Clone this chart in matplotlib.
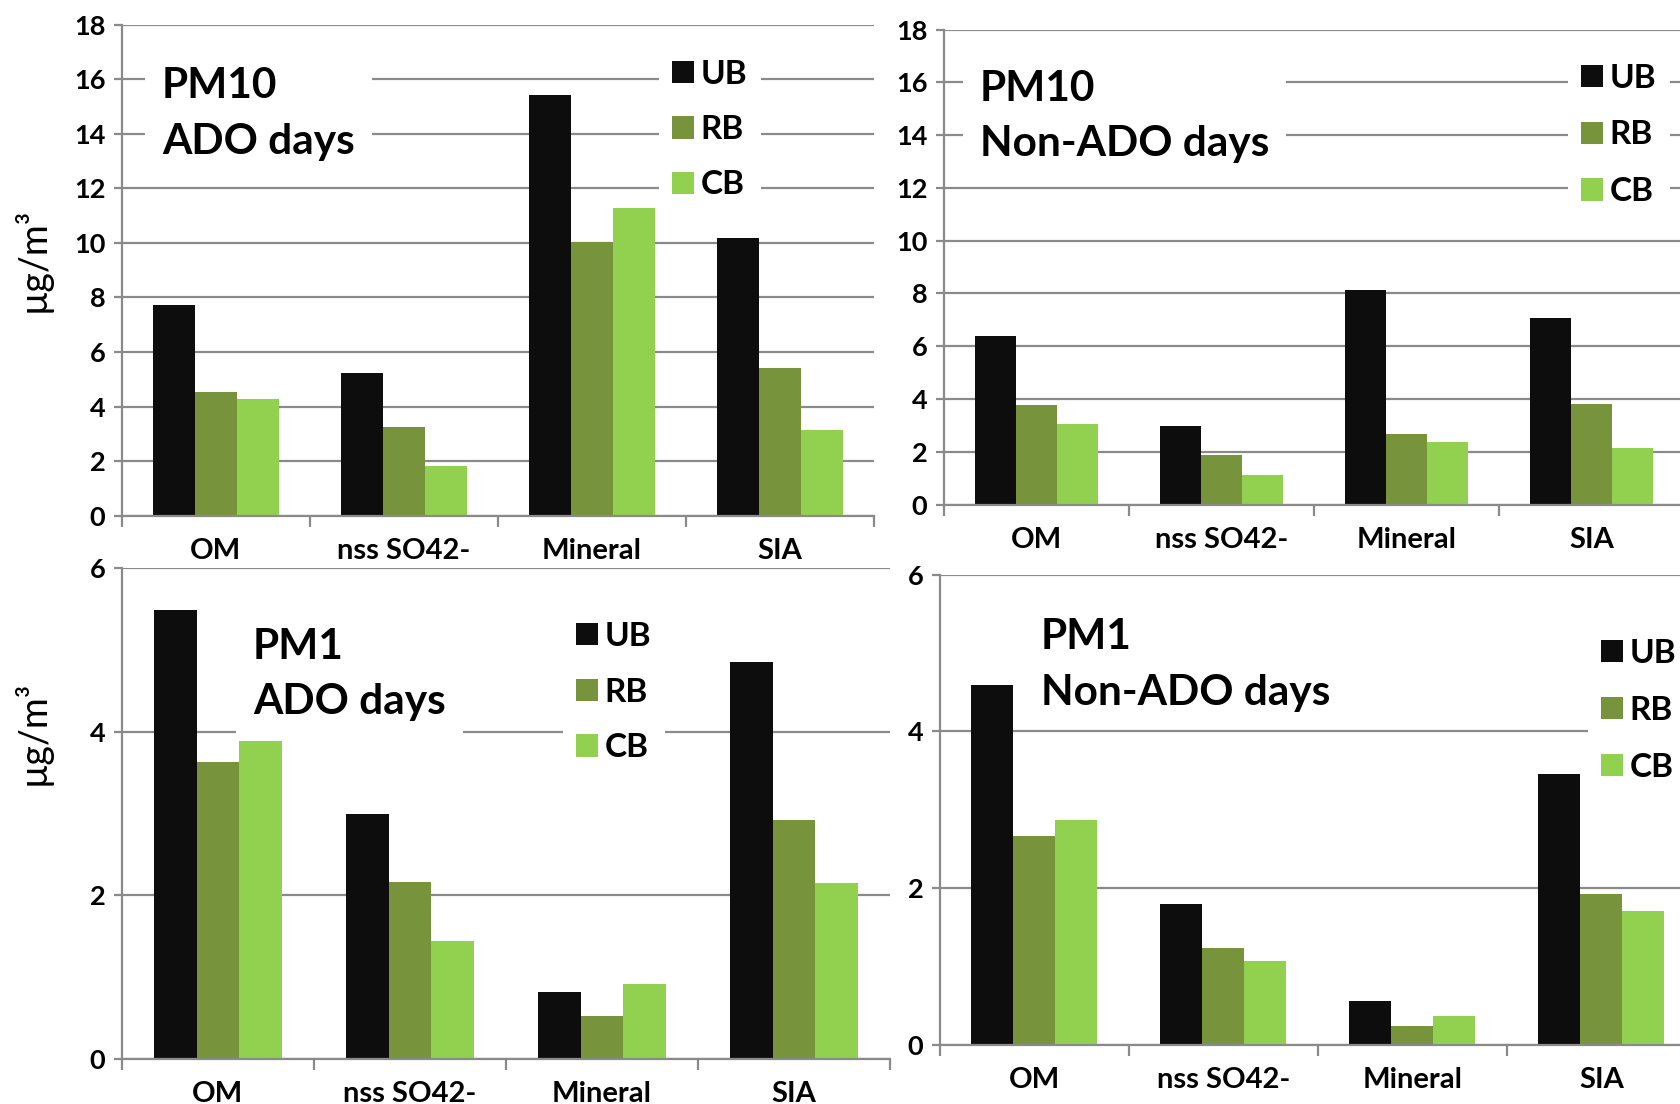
import matplotlib
matplotlib.use("Agg")
import matplotlib.pyplot as plt
from matplotlib.patches import Patch
from matplotlib.ticker import MultipleLocator, FixedLocator
import numpy as np

plt.rcParams['font.family'] = ['Lato', 'DejaVu Sans']

categories = ["OM", "nss SO42-", "Mineral", "SIA"]
series_names = ["UB", "RB", "CB"]
colors = ["#0d0d0d", "#77933c", "#92d050"]

pm10_ado_ub = [7.71, 5.24, 15.42, 10.19]
pm10_ado_rb = [4.55, 3.24, 10.03, 5.41]
pm10_ado_cb = [4.26, 1.81, 11.29, 3.13]

pm10_non_ub = [6.39, 2.98, 8.13, 7.08]
pm10_non_rb = [3.78, 1.88, 2.68, 3.82]
pm10_non_cb = [3.06, 1.12, 2.37, 2.15]

pm1_ado_ub = [5.49, 3.00, 0.82, 4.85]
pm1_ado_rb = [3.63, 2.16, 0.52, 2.92]
pm1_ado_cb = [3.89, 1.44, 0.92, 2.15]

pm1_non_ub = [4.59, 1.80, 0.56, 3.46]
pm1_non_rb = [2.67, 1.24, 0.24, 1.93]
pm1_non_cb = [2.87, 1.07, 0.37, 1.71]

W, H = 1681, 1104
fig = plt.figure(figsize=(W / 100, H / 100), dpi=100)
fig.patch.set_facecolor("white")

GRAY = "#8a8a8a"


def px_axes(left, top, width, height):
    return fig.add_axes([left / W, 1 - (top + height) / H, width / W, height / H])


def fx(x):
    return x / W


def fy(y):
    return 1 - y / H


panels = [
    dict(rect=(122, 24.7, 752, 491), data=(pm10_ado_ub, pm10_ado_rb, pm10_ado_cb),
         ymax=18, step=2, title="PM10\nADO days", title_xy=(162, 114),
         leg_xy=(659, 46.5), lsp=0.79),
    dict(rect=(944, 29.6, 740, 475), data=(pm10_non_ub, pm10_non_rb, pm10_non_cb),
         ymax=18, step=2, title="PM10\nNon-ADO days", title_xy=(980, 116.5),
         leg_xy=(1568, 50.5), lsp=0.83),
    dict(rect=(122, 568.4, 768, 490.4), data=(pm1_ado_ub, pm1_ado_rb, pm1_ado_cb),
         ymax=6, step=2, title="PM1\nADO days", title_xy=(253, 674.5),
         leg_xy=(563, 608.5), lsp=0.80),
    dict(rect=(940, 574.7, 756, 470.3), data=(pm1_non_ub, pm1_non_rb, pm1_non_cb),
         ymax=6, step=2, title="PM1\nNon-ADO days", title_xy=(1041, 665),
         leg_xy=(1588, 625.5), lsp=0.84),
]

bw = 1 / 4.5
x = np.arange(len(categories))

for p in panels:
    ax = px_axes(*p["rect"])
    for i, (vals, c) in enumerate(zip(p["data"], colors)):
        ax.bar(x + (i - 1) * bw, vals, width=bw, color=c, zorder=3, linewidth=0)
    ax.set_xlim(-0.5, len(categories) - 0.5)
    ax.set_ylim(0, p["ymax"])
    ax.yaxis.set_major_locator(MultipleLocator(p["step"]))
    ax.grid(axis="y", color=GRAY, linewidth=1.6, zorder=0)
    ax.set_axisbelow(True)
    for s in ["top", "right"]:
        ax.spines[s].set_visible(False)
    for s in ["left", "bottom"]:
        ax.spines[s].set_color(GRAY)
        ax.spines[s].set_linewidth(1.6)
        ax.spines[s].set_zorder(4)
    ax.set_xticks(x)
    ax.set_xticklabels(categories, fontsize=21, fontweight="bold")
    ax.xaxis.set_minor_locator(FixedLocator(np.arange(-0.5, len(categories), 1.0)))
    ax.tick_params(axis="x", which="major", length=0, pad=16)
    ax.tick_params(axis="x", which="minor", length=8, width=1.6, color=GRAY, direction="out")
    ax.tick_params(axis="y", which="major", length=6, width=1.6, color=GRAY,
                   direction="out", pad=6, labelsize=19.5)
    for lab in ax.get_yticklabels():
        lab.set_fontweight("bold")

    fig.text(fx(p["title_xy"][0]), fy(p["title_xy"][1]), p["title"],
             fontsize=30.5, fontweight="bold", ha="left", va="center",
             linespacing=1.55, zorder=5,
             bbox=dict(boxstyle="square,pad=0.4", facecolor="white", edgecolor="none"))

    handles = [Patch(facecolor=c, edgecolor="none") for c in colors]
    ax.legend(handles, series_names, loc="upper left",
              bbox_to_anchor=(fx(p["leg_xy"][0]), fy(p["leg_xy"][1])),
              bbox_transform=fig.transFigure, frameon=True, framealpha=1,
              facecolor="white", edgecolor="none", fancybox=False,
              borderaxespad=0, borderpad=0.4, handlelength=0.65, handleheight=0.65,
              handletextpad=0.2, labelspacing=p["lsp"],
              prop=dict(family="Lato", weight="bold", size=24))

fig.text(fx(32), fy(260), "µg/m³", rotation=90, fontsize=27, ha="center", va="center")
fig.text(fx(32), fy(733), "µg/m³", rotation=90, fontsize=27, ha="center", va="center")

fig.savefig("out.png", dpi=100, facecolor="white")
